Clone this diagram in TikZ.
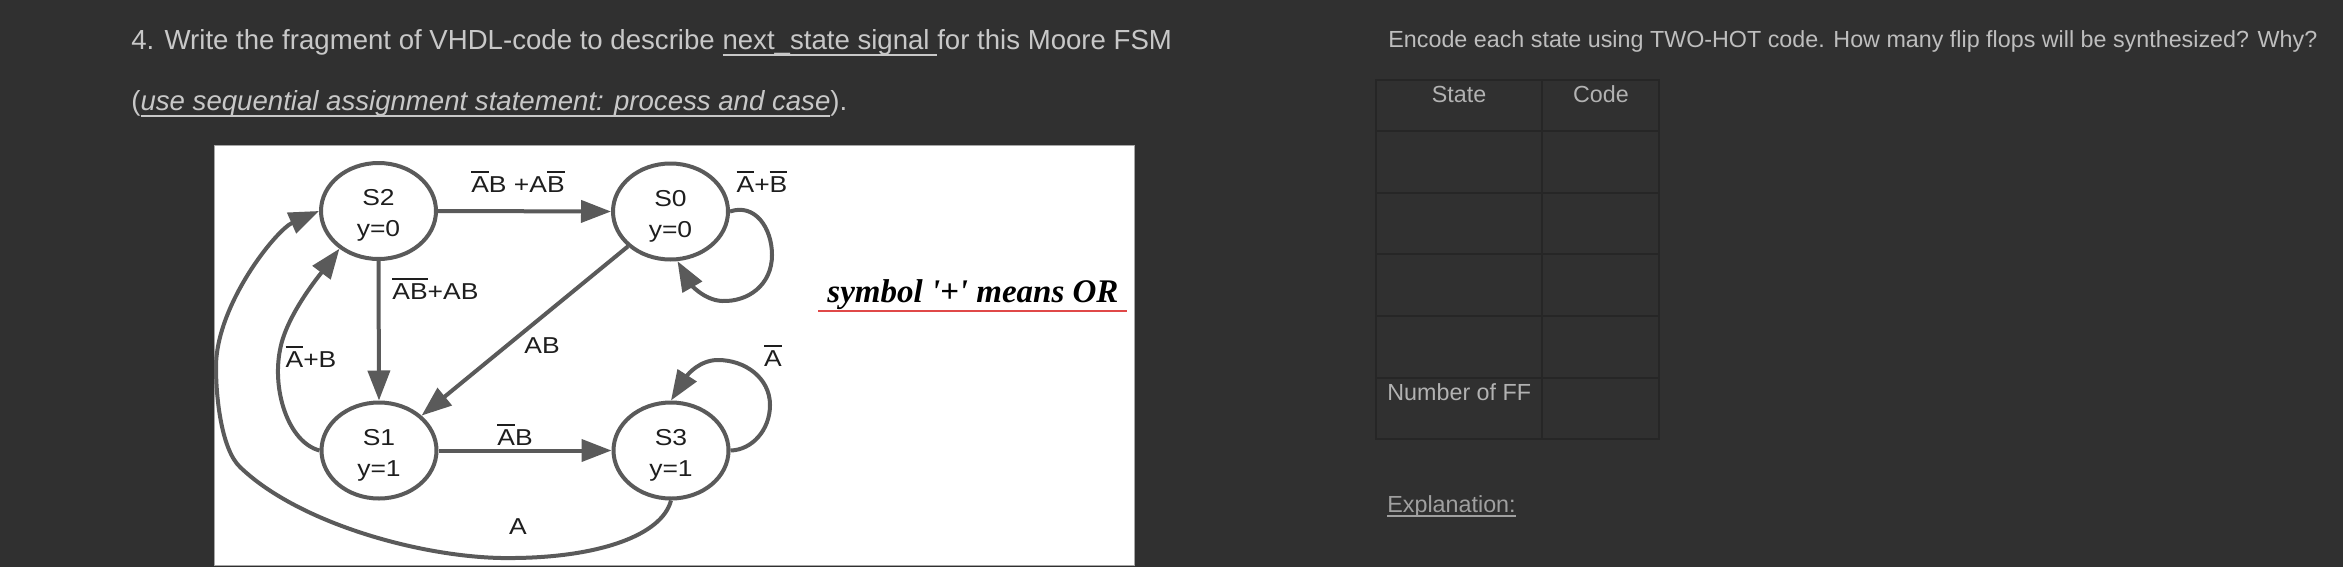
\documentclass[tikz,border=0pt]{standalone}
\usepackage{fontspec}
\setmainfont{Liberation Sans}
\newfontfamily\dfont[FakeStretch=1.15]{Liberation Sans}
\newfontfamily\symf[Ligatures=TeXOff]{Liberation Serif}
\usetikzlibrary{shapes.geometric,arrows.meta}
\definecolor{bg}{HTML}{303030}
\definecolor{lc}{HTML}{5A5A5A}
\definecolor{dk}{HTML}{1E1E1E}
\definecolor{tc}{HTML}{C8C8C8}
\definecolor{tcb}{HTML}{BEBEBE}
\definecolor{tcc}{HTML}{B2B2B2}
\definecolor{redl}{HTML}{E04848}
\newcommand\ob[1]{\setbox0=\hbox{#1}\rlap{\raisebox{\dimexpr\ht0+1.6pt\relax}{\rule{\wd0}{0.8pt}}}\box0}
\newcommand\myul[2][3pt]{\setbox0=\hbox{#2}\rlap{\raisebox{-#1}{\rule{\wd0}{1pt}}}\box0}
\begin{document}
\begin{tikzpicture}[x=0.5pt,y=-0.5pt,
  state/.style={ellipse, draw=lc, line width=2pt, fill=white, minimum width=57.5pt, minimum height=48pt, inner sep=0pt},
  edge/.style={draw=lc, line width=2pt, -{Triangle[length=15pt,width=11pt]}},
  stxt/.style={anchor=base, inner sep=0pt, text=dk, font=\dfont\fontsize{11.5pt}{14pt}\selectfont},
  elab/.style={anchor=base, inner sep=0pt, text=dk, font=\dfont\fontsize{11.5pt}{14pt}\selectfont},
  title/.style={anchor=base west, inner sep=0pt, text=tc, font=\fontsize{13.8pt}{16pt}\selectfont},
  titleb/.style={anchor=base west, inner sep=0pt, text=tcb, font=\fontsize{11.65pt}{14pt}\selectfont},
  ttxt/.style={inner sep=0pt, text=tcc, font=\fontsize{11.65pt}{14pt}\selectfont},
  tline/.style={draw=black!85, line width=1pt}
]
\fill[bg] (0,0) rectangle (2343,567);
\useasboundingbox (0,0) rectangle (2343,567);

% titles
\node[title] (t1) at (131,50) {4. Write the fragment of VHDL-code to describe \myul{next\_state signal }for this Moore FSM};
\node[title] (t2) at (131,111) {(\myul{\itshape use sequential assignment statement: process and case}).};
\node[titleb] (t3) at (1388,48) {Encode each state using TWO-HOT code. How many flip flops will be synthesized? Why?};

% white picture
\fill[white] (214,145) rectangle (1134,565);
\draw[gray!70, line width=0.5pt] (214,145) rectangle (1134,565);

% states
\node[state] (S2) at (378.5,211) {};
\node[state] (S0) at (670.5,211.5) {};
\node[state] (S1) at (379,450.5) {};
\node[state] (S3) at (671,450.5) {};
\node[stxt] (S2a) at (378.5,205.5) {S2};
\node[stxt] (S2b) at (378.5,236.5) {y=0};
\node[stxt] (S0a) at (670.5,206) {S0};
\node[stxt] (S0b) at (670.5,237) {y=0};
\node[stxt] (S1a) at (379,445) {S1};
\node[stxt] (S1b) at (379,476) {y=1};
\node[stxt] (S3a) at (671,445) {S3};
\node[stxt] (S3b) at (671,476) {y=1};

% edges
\draw[edge] (S2.east) -- (S0.west);
\draw[edge] (S2.south) -- (S1.north);
\draw[edge] (S0) -- (S1);
\draw[edge] (S1.east) -- (S3.west);
\draw[edge] (S0.east) .. controls (755,203) and (772,228) .. (772,255)
  .. controls (772,285) and (748,302) .. (722,301)
  .. controls (703,300) and (690,283) .. (S0.-82);
\draw[edge] (S3.east) .. controls (752,450) and (770,430) .. (770,405)
  .. controls (770,378) and (745,360) .. (718,360)
  .. controls (700,360) and (688,374) .. (S3.north);
\draw[edge] (S1.west) .. controls (288,442) and (272,390) .. (280,350)
  .. controls (286,315) and (322,272) .. (S2.-136);
\draw[edge] (S3.south) .. controls (662,535) and (600,557) .. (515,558)
  .. controls (430,560) and (300,525) .. (240,467)
  .. controls (222,450) and (216,400) .. (216,367)
  .. controls (216,305) and (276,230) .. (S2.west);

% edge labels
\node[elab] (l1) at (518,192) {\ob{A}B +A\ob{B}};
\node[elab, anchor=base west] (l2) at (392,299) {\ob{A}\ob{B}+AB};
\node[elab] (l3) at (542,353) {AB};
\node[elab] (l4) at (515,445) {\ob{A}B};
\node[elab] (l5) at (311,367) {\ob{A}+B};
\node[elab] (l6) at (762,192) {\ob{A}+\ob{B}};
\node[elab] (l7) at (773,366) {\ob{A}};
\node[elab] (l8) at (518,534) {A};

% note
\node[anchor=base west, inner sep=0pt, text=black, font=\symf\bfseries\itshape\fontsize{16.5pt}{19pt}\selectfont] (sym) at (827,302) {symbol '+' means OR};
\draw[redl, line width=1pt] (818,311) -- (1127,311);

% table
\draw[tline] (1376,80) rectangle (1659,439);
\draw[tline] (1542,80) -- (1542,439);
\foreach \yy in {131,193,254,316,378} \draw[tline] (1376,\yy) -- (1659,\yy);
\node[ttxt, anchor=base] (hs) at (1459,103) {State};
\node[ttxt, anchor=base] (hc) at (1601,103) {Code};
\node[ttxt, anchor=base west] (nff) at (1387,400) {Number of FF};
\node[ttxt, anchor=base west, text=tcc!90!black] (ex) at (1387,512) {\myul[2.5pt]{Explanation:}};
\end{tikzpicture}
\end{document}
